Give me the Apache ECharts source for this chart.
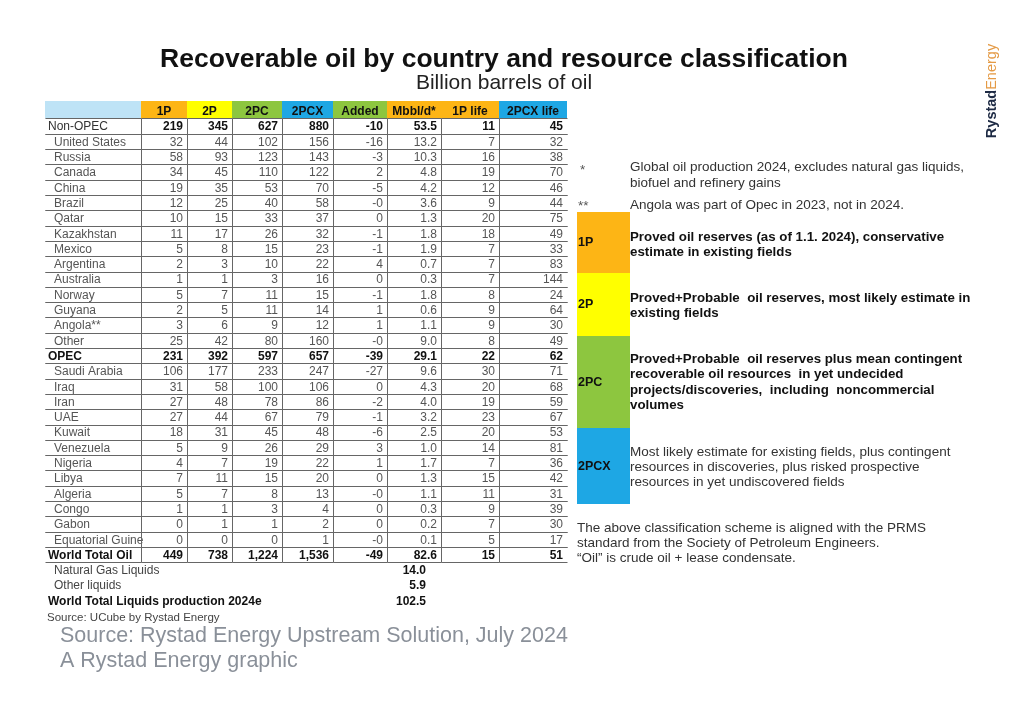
<!DOCTYPE html>
<html><head><meta charset="utf-8">
<script src="https://cdn.jsdelivr.net/npm/echarts/dist/echarts.min.js"></script>
<style>html,body{margin:0;padding:0;background:#fff}#c{width:1024px;height:710px}</style>
</head><body><div id="c"></div>
<script>
// ---------- DATA ----------
const columns = ['', '1P', '2P', '2PC', '2PCX', 'Added', 'Mbbl/d*', '1P life', '2PCX life'];
const countries = ['Non-OPEC','United States','Russia','Canada','China','Brazil','Qatar','Kazakhstan','Mexico','Argentina','Australia','Norway','Guyana','Angola**','Other','OPEC','Saudi Arabia','Iraq','Iran','UAE','Kuwait','Venezuela','Nigeria','Libya','Algeria','Congo','Gabon','Equatorial Guine','World Total Oil'];
const reserves1P   = [219,32,58,34,19,12,10,11,5,2,1,5,2,3,25,231,106,31,27,27,18,5,4,7,5,1,0,0,449];
const reserves2P   = [345,44,93,45,35,25,15,17,8,3,1,7,5,6,42,392,177,58,48,44,31,9,7,11,7,1,1,0,738];
const resources2PC = [627,102,123,110,53,40,33,26,15,10,3,11,11,9,80,597,233,100,78,67,45,26,19,15,8,3,1,0,1224];
const resources2PCX= [880,156,143,122,70,58,37,32,23,22,16,15,14,12,160,657,247,106,86,79,48,29,22,20,13,4,2,1,1536];
const added        = [-10,-16,-3,2,-5,-0,0,-1,-1,4,0,-1,1,1,-0,-39,-27,0,-2,-1,-6,3,1,0,-0,0,0,-0,-49];
const productionMbbld = [53.5,13.2,10.3,4.8,4.2,3.6,1.3,1.8,1.9,0.7,0.3,1.8,0.6,1.1,9.0,29.1,9.6,4.3,4.0,3.2,2.5,1.0,1.7,1.3,1.1,0.3,0.2,0.1,82.6];
const life1P       = [11,7,16,19,12,9,20,18,7,7,7,8,9,9,8,22,30,20,19,23,20,14,7,15,11,9,7,5,15];
const life2PCX     = [45,32,38,70,46,44,75,49,33,83,144,24,64,30,49,62,71,68,59,67,53,81,36,42,31,39,30,17,51];
const extraLabels  = ['Natural Gas Liquids','Other liquids','World Total Liquids production 2024e'];
const extraValues  = [14.0, 5.9, 102.5];
const totalRows    = ['Non-OPEC','OPEC','World Total Oil'];

// ---------- LAYOUT / STYLE ----------
const colWidths = [96,46,45,50,51,54,54,58,68];
const colEdges = colWidths.reduce((a,w)=>{a.push(a[a.length-1]+w);return a;},[0]);
const TOTAL = colEdges[colEdges.length-1];
const C = {lb:'#BEE3F6', or:'#FDB515', ye:'#FFFF00', gr:'#8DC63F', bl:'#1EA7E4'};
const headerColors = [C.lb, C.or, C.ye, C.gr, C.bl, C.gr, C.or, C.or, C.bl];
const FF = '"Liberation Sans", Arial, sans-serif';
const valueCols = [reserves1P, reserves2P, resources2PC, resources2PCX, added, productionMbbld, life1P, life2PCX];
const nTable = countries.length;
const rowLabels = countries.concat(extraLabels);
const ROWH = 15.3;

function fmt(col, v){
  if (Object.is(v, -0)) return '-0';
  if (col === 5) return v.toFixed(1);
  return v.toLocaleString('en-US');
}

// cell data
const bodyData = [];
for (let r = 0; r < nTable; r++) for (let c = 0; c < columns.length; c++) bodyData.push([c, r]);
for (let i = 0; i < extraLabels.length; i++) { bodyData.push([0, nTable + i]); bodyData.push([6, nTable + i]); }

function cellText(c, r){
  if (r < nTable) return c === 0 ? countries[r] : fmt(c - 1, valueCols[c - 1][r]);
  const i = r - nTable;
  return c === 0 ? extraLabels[i] : extraValues[i].toFixed(1);
}

function renderBody(params, api){
  const c = api.value(0), r = api.value(1);
  const a = api.coord([colEdges[c], r]), b = api.coord([colEdges[c + 1], r]);
  const h = api.size([0, 1])[1];
  const x0 = Math.round(a[0]) + 0.5, x1 = Math.round(b[0]) + 0.5;
  const yc = a[1], y0 = Math.round(yc - h / 2) + 0.5, y1 = Math.round(yc + h / 2) + 0.5;
  const ty = yc + 1;
  const children = [];
  const inTable = r < nTable;
  const label = rowLabels[r];
  const isTotal = totalRows.indexOf(label) >= 0;
  if (inTable) {
    const ls = {stroke:'#666', lineWidth:1};
    children.push({type:'line', shape:{x1:x0, y1:y0, x2:x1, y2:y0}, style:ls});
    children.push({type:'line', shape:{x1:x0, y1:y1, x2:x1, y2:y1}, style:ls});
    if (c > 0) children.push({type:'line', shape:{x1:x0, y1:y0, x2:x0, y2:y1}, style:ls});
  }
  const txt = cellText(c, r);
  let st;
  if (c === 0) {
    let bold = false, indent = 9, fill = '#555';
    if (inTable) {
      if (label === 'Non-OPEC') { indent = 3; fill = '#333'; }
      else if (isTotal) { indent = 3; bold = true; fill = '#111'; }
    } else {
      if (r === rowLabels.length - 1) { bold = true; indent = 3; fill = '#111'; }
      else { indent = 9; fill = '#444'; }
    }
    st = {text:txt, x:a[0] + indent, y:ty, align:'left', verticalAlign:'middle', fill:fill,
          font:(bold ? 'bold ' : '') + '12px ' + FF};
  } else {
    const bold = (inTable && isTotal) || !inTable;
    const xr = inTable ? b[0] - 4 : b[0] - 15;
    st = {text:txt, x:xr, y:ty, align:'right', verticalAlign:'middle', fill: bold ? '#111' : '#555',
          font:(bold ? 'bold ' : '') + '12px ' + FF};
  }
  children.push({type:'text', style:st});
  return {type:'group', children:children};
}

function renderHeader(params, api){
  const c = api.value(0);
  const a = api.coord([colEdges[c], 0]), b = api.coord([colEdges[c + 1], 0]);
  const h = api.size([0, 1])[1];
  return {type:'group', children:[
    {type:'rect', shape:{x:a[0], y:a[1] - h / 2, width:b[0] - a[0], height:h}, style:{fill:headerColors[c]}},
    {type:'text', style:{text:columns[c], x:(a[0] + b[0]) / 2, y:a[1] + 1.5, align:'center', verticalAlign:'middle',
      fill:'#111', font:'bold 12px ' + FF}}
  ]};
}

// ---------- GRAPHIC (titles, notes, legend) ----------
function T(x, y, text, opt){
  opt = opt || {};
  return {type:'text', x:x, y:y, silent:true,
    style:{text:text, x:0, y:0, align:opt.align || 'left', verticalAlign:'middle',
      fill:opt.fill || '#222', font:(opt.bold ? 'bold ' : '') + (opt.size || 12) + 'px ' + (opt.ff || FF)}};
}
function R(x, y, w, h, fill){ return {type:'rect', shape:{x:x, y:y, width:w, height:h}, style:{fill:fill}, silent:true}; }

const PR = 13.5, PB = 13.3;
const g = [
  T(504, 60, 'Recoverable oil by country and resource classification', {bold:true, size:26.5, align:'center', fill:'#111'}),
  T(504, 83, 'Billion barrels of oil', {size:21, align:'center', fill:'#222'}),
  {type:'text', x:992, y:91, rotation:Math.PI / 2, silent:true,
    style:{text:'{a|Rystad}{b|Energy}', x:0, y:0, align:'center', verticalAlign:'middle',
      rich:{a:{font:'bold 14.5px ' + FF, fill:'#1d2a44'}, b:{font:'14.5px ' + FF, fill:'#E49A45'}}}},
  T(580, 170, '*', {fill:'#555', size:PR}),
  T(630, 167, 'Global oil production 2024, excludes natural gas liquids,', {size:PR, fill:'#333'}),
  T(630, 183, 'biofuel and refinery gains', {size:PR, fill:'#333'}),
  T(578, 206, '**', {fill:'#555', size:PR}),
  T(630, 205, 'Angola was part of Opec in 2023, not in 2024.', {size:PR, fill:'#333'}),
  R(577, 212, 53, 61, C.or), R(577, 273, 53, 63, C.ye), R(577, 336, 53, 92, C.gr), R(577, 428, 53, 76, C.bl),
  T(578, 243, '1P', {bold:true, size:12.5, fill:'#111'}),
  T(578, 305, '2P', {bold:true, size:12.5, fill:'#111'}),
  T(578, 383, '2PC', {bold:true, size:12.5, fill:'#111'}),
  T(578, 467, '2PCX', {bold:true, size:12.5, fill:'#111'}),
  T(630, 237, 'Proved oil reserves (as of 1.1. 2024), conservative', {bold:true, size:PB, fill:'#111'}),
  T(630, 252, 'estimate in existing fields', {bold:true, size:PB, fill:'#111'}),
  T(630, 298, 'Proved+Probable  oil reserves, most likely estimate in', {bold:true, size:PB, fill:'#111'}),
  T(630, 313, 'existing fields', {bold:true, size:PB, fill:'#111'}),
  T(630, 359, 'Proved+Probable  oil reserves plus mean contingent', {bold:true, size:PB, fill:'#111'}),
  T(630, 374, 'recoverable oil resources  in yet undecided', {bold:true, size:PB, fill:'#111'}),
  T(630, 390, 'projects/discoveries,  including  noncommercial', {bold:true, size:PB, fill:'#111'}),
  T(630, 405, 'volumes', {bold:true, size:PB, fill:'#111'}),
  T(630, 452, 'Most likely estimate for existing fields, plus contingent', {size:PR, fill:'#333'}),
  T(630, 467, 'resources in discoveries, plus risked prospective', {size:PR, fill:'#333'}),
  T(630, 482, 'resources in yet undiscovered fields', {size:PR, fill:'#333'}),
  T(577, 528, 'The above classification scheme is aligned with the PRMS', {size:PR, fill:'#333'}),
  T(577, 543, 'standard from the Society of Petroleum Engineers.', {size:PR, fill:'#333'}),
  T(577, 558, '\u201COil\u201D is crude oil + lease condensate.', {size:PR, fill:'#333'}),
  T(47, 618, 'Source: UCube by Rystad Energy', {size:11.5, fill:'#444'}),
  T(60, 636, 'Source: Rystad Energy Upstream Solution, July 2024', {size:21.5, fill:'#8a9099'}),
  T(60, 661, 'A Rystad Energy graphic', {size:21.5, fill:'#8a9099'})
];

const chart = echarts.init(document.getElementById('c'), null, {renderer:'canvas'});
chart.setOption({
  backgroundColor:'#ffffff',
  animation:false,
  grid:[
    {left:45, top:101, width:TOTAL, height:17.5},
    {left:45, top:118.5, width:TOTAL, height:ROWH * rowLabels.length}
  ],
  xAxis:[
    {gridIndex:0, type:'value', min:0, max:TOTAL, show:false},
    {gridIndex:1, type:'value', min:0, max:TOTAL, show:false}
  ],
  yAxis:[
    {gridIndex:0, type:'category', data:['header'], show:false},
    {gridIndex:1, type:'category', data:rowLabels, inverse:true, show:false}
  ],
  series:[
    {type:'custom', xAxisIndex:0, yAxisIndex:0, data:columns.map((c, i) => [i, 0]), renderItem:renderHeader, silent:true},
    {type:'custom', xAxisIndex:1, yAxisIndex:1, data:bodyData, renderItem:renderBody, silent:true}
  ],
  graphic:{elements:g}
});
</script></body></html>
